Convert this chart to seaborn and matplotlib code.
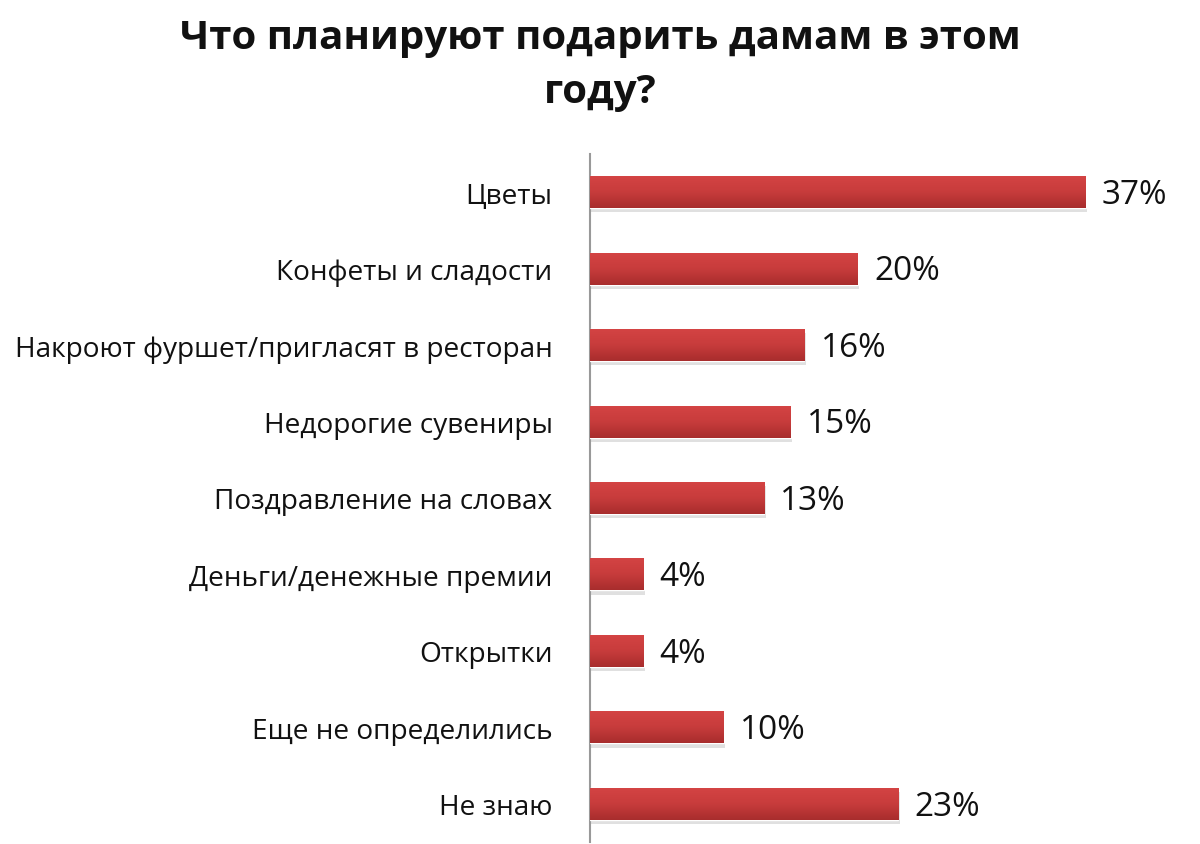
import numpy as np
import pandas as pd
import matplotlib
matplotlib.use("Agg")
import matplotlib.pyplot as plt
import matplotlib.patheffects as pe
from matplotlib.colors import LinearSegmentedColormap
import seaborn as sns

### data
categories = ["Цветы", "Конфеты и сладости", "Накроют фуршет/пригласят в ресторан",
              "Недорогие сувениры", "Поздравление на словах", "Деньги/денежные премии",
              "Открытки", "Еще не определились", "Не знаю"]
values = [37, 20, 16, 15, 13, 4, 4, 10, 23]
value_labels = ["37%", "20%", "16%", "15%", "13%", "4%", "4%", "10%", "23%"]
title = "Что планируют подарить дамам в этом\nгоду?"

df = pd.DataFrame({"cat": categories, "val": values})

sns.set_style("white")
plt.rcParams["font.family"] = ["Open Sans", "DejaVu Sans"]

fig = plt.figure(figsize=(12, 8.45), dpi=100)
ax = fig.add_axes([590 / 1200, 2 / 845, 603 / 1200, 688 / 845])

sns.barplot(data=df, y="cat", x="val", color="#c43a3a", width=0.42,
            orient="h", ax=ax, zorder=3)

### gradient fill + soft shadow on each bar
cmap = LinearSegmentedColormap.from_list("redgrad", ["#d44444", "#c83c3c", "#a82d2d"])
grad = np.linspace(0, 1, 64).reshape(-1, 1)
for p in ax.patches:
    x0, y0 = p.get_x(), p.get_y()
    w, h = p.get_width(), p.get_height()
    p.set_path_effects([pe.SimplePatchShadow(offset=(1, -3), shadow_rgbFace="#999999", alpha=0.3),
                        pe.Normal()])
    im = ax.imshow(grad, cmap=cmap, aspect="auto", extent=(x0, x0 + w, y0 + h, y0),
                   zorder=4, interpolation="bilinear")
    im.set_clip_path(p)

ax.set_xlim(0, 45)
ax.set_ylim(len(categories) - 0.5, -0.5)

for i, (v, lab) in enumerate(zip(values, value_labels)):
    ax.text(v + 1.2, i + 0.03, lab, va="center", ha="left", fontsize=24, color="#111111", zorder=5)

ax.set_xlabel("")
ax.set_ylabel("")
ax.set_xticks([])
ax.tick_params(axis="y", length=0, pad=27, labelsize=20.2, labelcolor="#111111")
for s in ["top", "right", "bottom"]:
    ax.spines[s].set_visible(False)
ax.spines["left"].set_color("#999999")
ax.spines["left"].set_linewidth(1.5)

fig.text(0.5, 0.977, title, ha="center", va="top", fontsize=29, fontweight="bold",
         color="#111111", linespacing=1.5)

fig.savefig("out.png", dpi=100, facecolor="white")
